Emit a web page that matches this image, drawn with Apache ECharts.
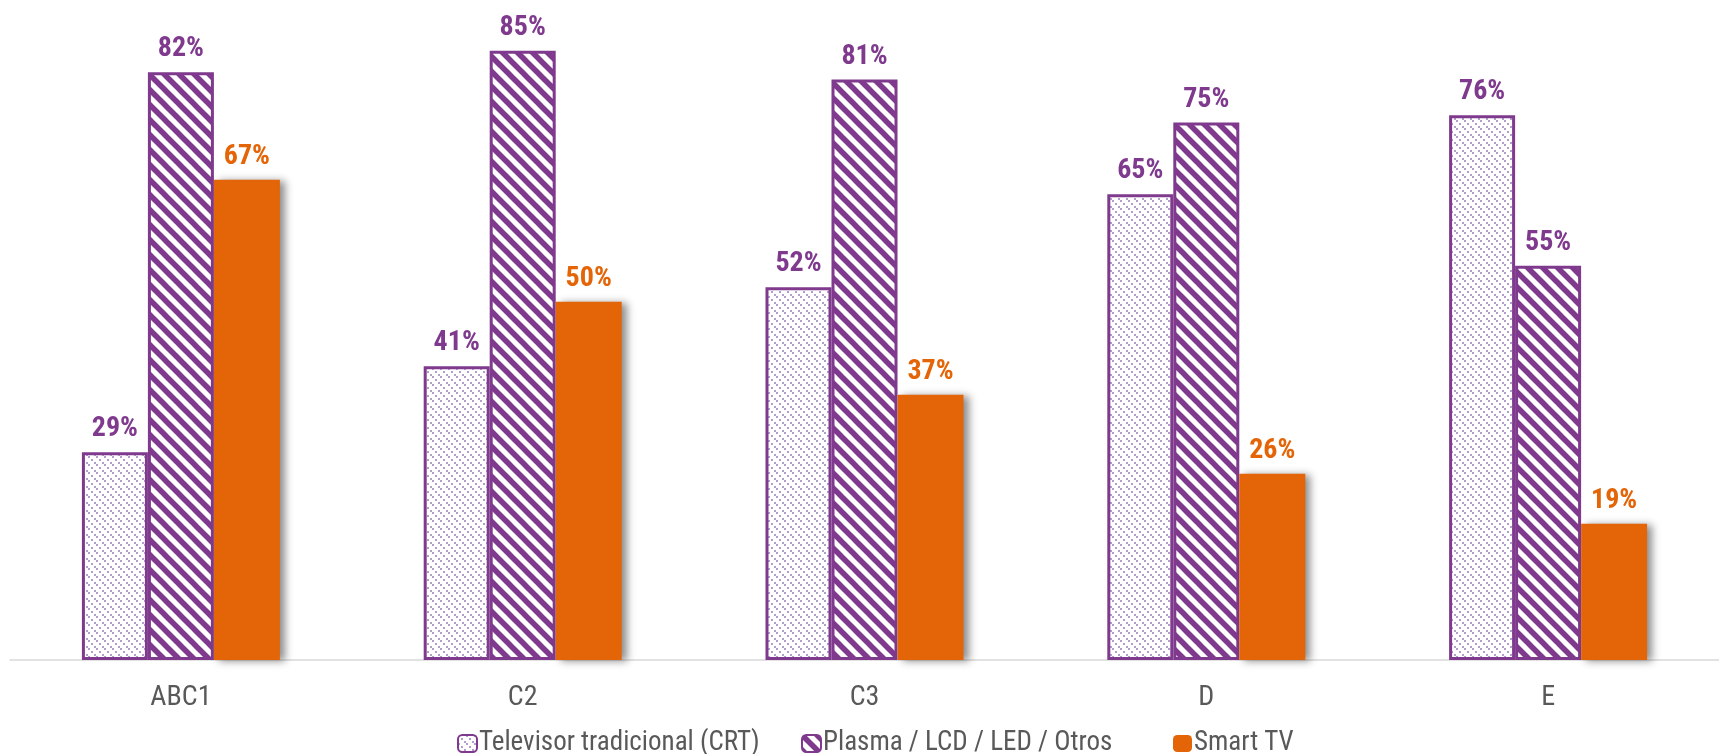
<!DOCTYPE html>
<html>
<head>
<meta charset="utf-8">
<script src="https://cdn.jsdelivr.net/npm/echarts@6/dist/echarts.min.js"></script>
<style>
html,body{margin:0;padding:0;background:#fff;}
#chart{width:1719px;height:754px;}
</style>
</head>
<body>
<div id="chart"></div>
<script>
const categories = ['ABC1', 'C2', 'C3', 'D', 'E'];
const crtValues = [29, 41, 52, 65, 76];
const plasmaValues = [82, 85, 81, 75, 55];
const smartValues = [67, 50, 37, 26, 19];
const seriesNames = ['Televisor tradicional (CRT)', 'Plasma / LCD / LED / Otros', 'Smart TV'];

const PURPLE = '#7F3A8E';
const LAVENDER = '#B49ECD';
const ORANGE = '#E46507';

function pickFont(cands) {
  const c = document.createElement('canvas').getContext('2d');
  const txt = 'Televisor tradicional ABC1 82%';
  for (const f of cands) {
    let ok = false;
    for (const base of ['monospace', 'serif']) {
      c.font = '28px ' + base; const w0 = c.measureText(txt).width;
      c.font = "28px '" + f + "', " + base; const w1 = c.measureText(txt).width;
      if (Math.abs(w1 - w0) > 0.5) ok = true;
    }
    if (ok) return "'" + f + "', sans-serif";
  }
  return 'sans-serif';
}
const FONT = pickFont(['Liberation Sans Narrow', 'Arial Narrow', 'Noto Sans Condensed', 'Roboto Condensed', 'Open Sans Condensed', 'DejaVu Sans Condensed']);

function stripePattern() {
  const s = 15;
  const c = document.createElement('canvas');
  c.width = s; c.height = s;
  const g = c.getContext('2d');
  g.fillStyle = '#fff'; g.fillRect(0, 0, s, s);
  g.strokeStyle = PURPLE; g.lineWidth = 5.5;
  for (let k = -1; k <= 1; k++) {
    g.beginPath();
    g.moveTo(k * s - 2, -2);
    g.lineTo(k * s + s + 2, s + 2);
    g.stroke();
  }
  return c;
}
function dotPattern() {
  const s = 8;
  const c = document.createElement('canvas');
  c.width = s; c.height = s;
  const g = c.getContext('2d');
  g.fillStyle = '#fff'; g.fillRect(0, 0, s, s);
  g.fillStyle = LAVENDER;
  g.fillRect(0, 0, 2, 2);
  g.fillRect(3, 3, 2, 2);
  g.fillRect(6, 6, 2, 2);
  return c;
}

const chart = echarts.init(document.getElementById('chart'), null, {renderer: 'canvas'});
const labelBase = {
  show: true, position: 'top', distance: 9,
  fontFamily: FONT, fontWeight: 'bold', fontSize: 28,
  formatter: '{c}%'
};
const legendBase = {
  top: 725,
  itemWidth: 19, itemHeight: 17,
  textStyle: {fontFamily: FONT, fontSize: 27, color: '#595959', padding: [0, 0, 0, -3]}
};
const legendLefts = [452, 796, 1168];
chart.setOption({
  animation: false,
  backgroundColor: '#fff',
  grid: {left: 10, width: 1714, top: 15, bottom: 94, containLabel: false},
  legend: seriesNames.map((n, i) => Object.assign({}, legendBase, {left: legendLefts[i], data: [n]})),
  xAxis: {
    type: 'category', data: categories,
    axisLine: {show: true, lineStyle: {color: '#D9D9D9', width: 1.5}},
    axisTick: {show: false},
    axisLabel: {fontFamily: FONT, fontSize: 28, color: '#595959', margin: 24}
  },
  yAxis: {type: 'value', min: 0, max: 90, show: false, splitLine: {show: false}},
  series: [
    {
      name: seriesNames[0], type: 'bar', data: crtValues,
      barWidth: 66, barGap: '0%',
      itemStyle: {color: {image: dotPattern(), repeat: 'repeat'}, borderColor: PURPLE, borderWidth: 3},
      label: Object.assign({}, labelBase, {color: PURPLE})
    },
    {
      name: seriesNames[1], type: 'bar', data: plasmaValues,
      barWidth: 66, barGap: '0%',
      itemStyle: {color: {image: stripePattern(), repeat: 'repeat'}, borderColor: PURPLE, borderWidth: 3},
      label: Object.assign({}, labelBase, {color: PURPLE})
    },
    {
      name: seriesNames[2], type: 'bar', data: smartValues,
      barWidth: 66, barGap: '0%',
      itemStyle: {color: ORANGE, shadowColor: 'rgba(0,0,0,0.45)', shadowBlur: 8, shadowOffsetX: 5, shadowOffsetY: 1},
      label: Object.assign({}, labelBase, {color: ORANGE})
    }
  ]
});
</script>
</body>
</html>
